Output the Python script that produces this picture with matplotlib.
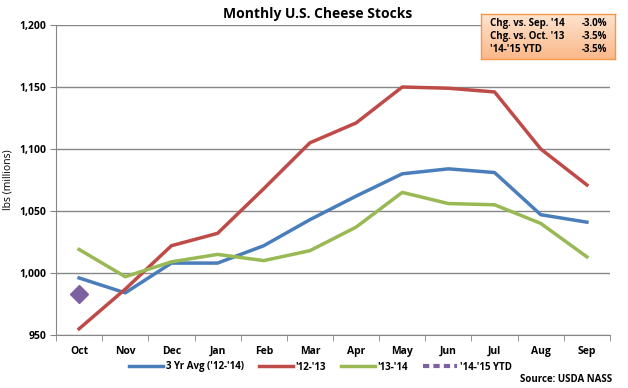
import matplotlib
matplotlib.use("Agg")
import matplotlib.pyplot as plt
import numpy as np
from matplotlib.lines import Line2D

months = ["Oct", "Nov", "Dec", "Jan", "Feb", "Mar", "Apr", "May", "Jun", "Jul", "Aug", "Sep"]
avg_3yr = [996, 984, 1008, 1008, 1022, 1043, 1062, 1080, 1084, 1081, 1047, 1041]
y_12_13 = [955, 987, 1022, 1032, 1068, 1105, 1121, 1150, 1149, 1146, 1100, 1071]
y_13_14 = [1019, 997, 1009, 1015, 1010, 1018, 1037, 1065, 1056, 1055, 1040, 1013]
y_14_15 = [983]

box_labels = ["Chg. vs. Sep. '14", "Chg. vs. Oct. '13", "'14-'15 YTD"]
box_values = ["-3.0%", "-3.5%", "-3.5%"]

plt.rcParams["font.family"] = ["Open Sans", "DejaVu Sans"]

fig = plt.figure(figsize=(6.28, 3.88), dpi=100)
ax = fig.add_axes([56 / 628, 1 - 335 / 388, 554 / 628, 310 / 388])

x = np.arange(len(months))
ax.plot(x, avg_3yr, color="#4a7ebb", lw=2.5, label="3 Yr Avg ('12-'14)")
ax.plot(x, y_12_13, color="#be4b48", lw=2.5, label="'12-'13")
ax.plot(x, y_13_14, color="#98b954", lw=2.5, label="'13-'14")
ax.plot(x[:len(y_14_15)], y_14_15, color="#7d60a0", lw=2.5, ls=(0, (2, 1)),
        marker="D", ms=9, label="'14-'15 YTD")

ax.set_xlim(-0.5, len(months) - 0.5)
ax.set_ylim(950, 1200)
ax.set_yticks(np.arange(950, 1201, 50))
ax.set_yticklabels([f"{v:,}" for v in range(950, 1201, 50)], fontsize=7.5, fontweight="bold")
ax.set_xticks(x)
ax.set_xticklabels(months, fontsize=7.5, fontweight="bold")
ax.set_xticks(np.arange(-0.5, len(months), 1), minor=True)
ax.tick_params(axis="x", which="major", length=0, pad=8)
ax.tick_params(axis="x", which="minor", length=4, color="#868686", direction="out")
ax.tick_params(axis="y", length=4, color="#868686", direction="out", pad=3)
ax.grid(axis="y", color="#868686", lw=1)
ax.set_axisbelow(True)
for s in ["top", "right"]:
    ax.spines[s].set_visible(False)
ax.spines["left"].set_color("#868686")
ax.spines["bottom"].set_color("#868686")
ax.set_ylabel("lbs (millions)", fontsize=7.5, labelpad=4)

fig.text(0.506, 1 - 14 / 388, "Monthly U.S. Cheese Stocks", ha="center", va="center",
         fontsize=10, fontweight="bold")

handles = [
    Line2D([], [], color="#4a7ebb", lw=2.5),
    Line2D([], [], color="#be4b48", lw=2.5),
    Line2D([], [], color="#98b954", lw=2.5),
    Line2D([], [], color="#7d60a0", lw=3, ls=(0, (1.5, 1))),
]
fig.legend(handles, ["3 Yr Avg ('12-'14)", "'12-'13", "'13-'14", "'14-'15 YTD"],
           loc="center", bbox_to_anchor=(0.51, 1 - 367 / 388), ncol=4, frameon=False,
           prop={"size": 7, "weight": "bold"}, handlelength=3.5, handletextpad=0.3,
           columnspacing=1.5)
fig.text(612 / 628, 1 - 380 / 388, "Source: USDA NASS", ha="right", va="center",
         fontsize=7, fontweight="bold")

# summary box
bx0, by0, bw, bh = 481 / 628, 1 - 59 / 388, 134 / 628, 45 / 388
grad = np.linspace(0, 1, 50).reshape(-1, 1)
bax = fig.add_axes([bx0, by0, bw, bh])
bax.imshow(grad, aspect="auto", cmap=matplotlib.colors.LinearSegmentedColormap.from_list(
    "o", ["#fde3cf", "#fbb98a"]), extent=[0, 1, 0, 1])
bax.set_xticks([]); bax.set_yticks([])
for s in bax.spines.values():
    s.set_color("#f79646"); s.set_linewidth(1)
for i, (lab, val) in enumerate(zip(box_labels, box_values)):
    yy = 0.78 - i * 0.28
    bax.text(0.07, yy, lab, fontsize=7, fontweight="bold", va="center", transform=bax.transAxes)
    bax.text(0.94, yy, val, fontsize=7, fontweight="bold", va="center", ha="right",
             transform=bax.transAxes)

fig.savefig("out.png", dpi=100)
